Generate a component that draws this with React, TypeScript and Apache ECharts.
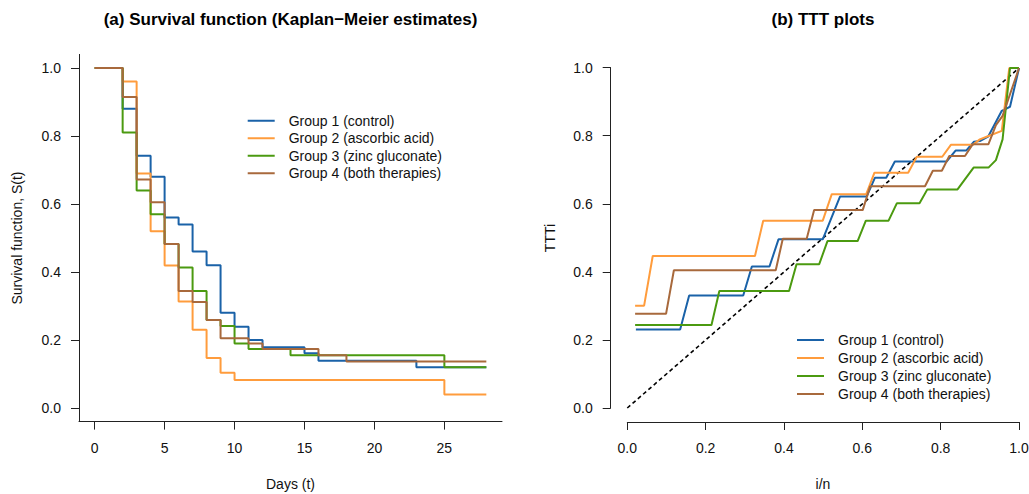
import React, { useEffect, useRef } from "react";
import * as echarts from "echarts";

// ---------- data ----------
const groupNames = [
  "Group 1 (control)",
  "Group 2 (ascorbic acid)",
  "Group 3 (zinc gluconate)",
  "Group 4 (both therapies)",
];

// Kaplan–Meier estimates (day, S(t)) — step changes
const km1Days = [0, 2, 3, 4, 5, 6, 7, 8, 9, 10, 11, 12, 15, 16, 23, 28];
const km1Surv = [1, 0.88, 0.742, 0.68, 0.56, 0.54, 0.46, 0.42, 0.28, 0.239, 0.2, 0.179, 0.161, 0.139, 0.12, 0.12];

const km2Days = [0, 2, 3, 4, 5, 6, 7, 8, 9, 10, 25, 28];
const km2Surv = [1, 0.96, 0.69, 0.52, 0.419, 0.313, 0.23, 0.147, 0.104, 0.082, 0.04, 0.04];

const km3Days = [0, 2, 3, 4, 5, 6, 7, 8, 9, 10, 11, 14, 25, 28];
const km3Surv = [1, 0.81, 0.64, 0.57, 0.482, 0.413, 0.344, 0.259, 0.241, 0.19, 0.1735, 0.155, 0.12, 0.12];

const km4Days = [0, 2, 3, 4, 5, 6, 7, 8, 9, 11, 12, 16, 18, 28];
const km4Surv = [1, 0.915, 0.672, 0.605, 0.482, 0.344, 0.312, 0.259, 0.205, 0.19, 0.1735, 0.155, 0.137, 0.137];

// TTT plots (i/n, TTTi)
const ttt1U = [0.022, 0.135, 0.158, 0.296, 0.318, 0.363, 0.386, 0.499, 0.543, 0.611, 0.632, 0.661, 0.683, 0.815, 0.838, 0.865, 0.885, 0.9, 0.921, 0.956, 0.977, 1];
const ttt1V = [0.231, 0.231, 0.331, 0.331, 0.416, 0.416, 0.496, 0.496, 0.622, 0.622, 0.677, 0.677, 0.725, 0.725, 0.757, 0.757, 0.783, 0.785, 0.798, 0.874, 0.886, 1];

const ttt2U = [0.02, 0.043, 0.065, 0.326, 0.347, 0.499, 0.522, 0.61, 0.631, 0.717, 0.739, 0.804, 0.826, 0.882, 0.9, 0.922, 0.956, 0.975, 1];
const ttt2V = [0.301, 0.301, 0.447, 0.447, 0.551, 0.551, 0.629, 0.629, 0.692, 0.692, 0.739, 0.739, 0.774, 0.774, 0.79, 0.8, 0.815, 1.0, 1];

const ttt3U = [0.02, 0.215, 0.235, 0.413, 0.432, 0.49, 0.511, 0.588, 0.609, 0.667, 0.688, 0.746, 0.766, 0.843, 0.884, 0.922, 0.941, 0.958, 0.977, 1];
const ttt3V = [0.244, 0.244, 0.344, 0.344, 0.423, 0.423, 0.491, 0.491, 0.551, 0.551, 0.602, 0.602, 0.643, 0.643, 0.707, 0.707, 0.729, 0.79, 1.0, 1];

const ttt4U = [0.02, 0.099, 0.119, 0.379, 0.397, 0.458, 0.477, 0.601, 0.62, 0.76, 0.78, 0.803, 0.822, 0.862, 0.882, 0.922, 0.941, 0.958, 1];
const ttt4V = [0.277, 0.277, 0.405, 0.405, 0.498, 0.498, 0.582, 0.582, 0.652, 0.652, 0.698, 0.698, 0.741, 0.741, 0.776, 0.776, 0.832, 0.859, 1];

const diagU = [0, 1];
const diagV = [0, 1];

const dayTicks = [0, 5, 10, 15, 20, 25];
const probTicks = [0, 0.2, 0.4, 0.6, 0.8, 1];

// ---------- styles ----------
const colors = ["#1a62a8", "#ff9c3c", "#4b9a10", "#a8693c"];
const FONT = "Liberation Sans, Arial, Helvetica, sans-serif";
const AX = "#222";

const zip = (a: number[], b: number[]) => a.map((v, i) => [v, b[i]]);

const kmDays = [km1Days, km2Days, km3Days, km4Days];
const kmSurv = [km1Surv, km2Surv, km3Surv, km4Surv];
const tttU = [ttt1U, ttt2U, ttt3U, ttt4U];
const tttV = [ttt1V, ttt2V, ttt3V, ttt4V];

const labelStyle = { color: "#111", fontSize: 14, fontFamily: FONT };

function buildOption() {
  const series: any[] = [];
  groupNames.forEach((name, i) => {
    series.push({
      name,
      type: "line",
      xAxisIndex: 0,
      yAxisIndex: 0,
      step: "end",
      showSymbol: false,
      symbol: "none",
      data: zip(kmDays[i], kmSurv[i]),
      lineStyle: { color: colors[i], width: 2 },
      itemStyle: { color: colors[i] },
    });
  });
  series.push({
    name: "diag",
    type: "line",
    xAxisIndex: 1,
    yAxisIndex: 1,
    showSymbol: false,
    symbol: "none",
    data: zip(diagU, diagV),
    lineStyle: { color: "#000", width: 1.6, type: [4, 3] },
    itemStyle: { color: "#000" },
  });
  groupNames.forEach((name, i) => {
    series.push({
      name,
      type: "line",
      xAxisIndex: 1,
      yAxisIndex: 1,
      showSymbol: false,
      symbol: "none",
      data: zip(tttU[i], tttV[i]),
      lineStyle: { color: colors[i], width: 2 },
      itemStyle: { color: colors[i] },
    });
  });

  const hidden = (min: number, max: number, gridIndex: number) => ({
    type: "value",
    gridIndex,
    min,
    max,
    show: false,
    splitLine: { show: false },
  });

  const legendCommon = {
    orient: "vertical",
    icon: "rect",
    itemWidth: 27,
    itemHeight: 2,
    itemGap: 0,
    padding: 0,
    selectedMode: false,
    data: groupNames,
    textStyle: { color: "#111", fontSize: 14, fontFamily: FONT, lineHeight: 17.5, padding: [0, 0, 0, 9] },
  };

  return {
    animation: false,
    backgroundColor: "#fff",
    textStyle: { fontFamily: FONT },
    grid: [
      { left: 79, top: 54.4, width: 423, height: 367.2, containLabel: false, outerBoundsMode: "none" },
      { left: 611.6, top: 54.4, width: 423.1, height: 367.2, containLabel: false, outerBoundsMode: "none" },
      { left: 627.3, top: 54.4, width: 391.7, height: 367.6, containLabel: false, outerBoundsMode: "none" },
      { left: 610.7, top: 67.6, width: 391.7, height: 340.4, containLabel: false, outerBoundsMode: "none" },
    ],
    xAxis: [
      {
        type: "value",
        gridIndex: 0,
        min: -1.12,
        max: 29.12,
        splitLine: { show: false },
        axisLine: { show: true, onZero: false, lineStyle: { color: AX, width: 1 } },
        axisTick: { show: true, length: 8, customValues: dayTicks, lineStyle: { color: AX } },
        axisLabel: { ...labelStyle, margin: 19, customValues: dayTicks, formatter: (v: number) => String(v) },
      },
      hidden(-0.04, 1.04, 1),
      {
        type: "value",
        gridIndex: 2,
        min: 0,
        max: 1,
        interval: 0.2,
        splitLine: { show: false },
        axisLine: { show: true, onZero: false, lineStyle: { color: AX, width: 1 } },
        axisTick: { show: true, length: 8, lineStyle: { color: AX } },
        axisLabel: { ...labelStyle, margin: 19, showMinLabel: true, showMaxLabel: true, formatter: (v: number) => v.toFixed(1) },
      },
      hidden(0, 1, 3),
    ],
    yAxis: [
      {
        type: "value",
        gridIndex: 0,
        min: -0.04,
        max: 1.04,
        splitLine: { show: false },
        axisLine: { show: true, onZero: false, lineStyle: { color: AX, width: 1 } },
        axisTick: { show: true, length: 8, customValues: probTicks, lineStyle: { color: AX } },
        axisLabel: { ...labelStyle, margin: 18, customValues: probTicks, formatter: (v: number) => v.toFixed(1) },
      },
      hidden(-0.04, 1.04, 1),
      hidden(0, 1, 2),
      {
        type: "value",
        gridIndex: 3,
        min: 0,
        max: 1,
        interval: 0.2,
        splitLine: { show: false },
        axisLine: { show: true, onZero: false, lineStyle: { color: AX, width: 1 } },
        axisTick: { show: true, length: 8, lineStyle: { color: AX } },
        axisLabel: { ...labelStyle, margin: 18, showMinLabel: true, showMaxLabel: true, formatter: (v: number) => v.toFixed(1) },
      },
    ],
    legend: [
      { ...legendCommon, left: 247.7, top: 112 },
      { ...legendCommon, left: 797, top: 331, textStyle: { ...legendCommon.textStyle, lineHeight: 18 } },
    ],
    graphic: [
      {
        type: "text",
        x: 290.5,
        y: 19,
        style: { text: "(a) Survival function (Kaplan\u2212Meier estimates)", fontSize: 17, fontWeight: "bold", fontFamily: FONT, fill: "#000", textAlign: "center", textVerticalAlign: "middle" },
      },
      {
        type: "text",
        x: 823,
        y: 19,
        style: { text: "(b) TTT plots", fontSize: 17, fontWeight: "bold", fontFamily: FONT, fill: "#000", textAlign: "center", textVerticalAlign: "middle" },
      },
      {
        type: "text",
        x: 290.5,
        y: 484,
        style: { text: "Days (t)", fontSize: 14, fontFamily: FONT, fill: "#111", textAlign: "center", textVerticalAlign: "middle" },
      },
      {
        type: "text",
        x: 823,
        y: 484,
        style: { text: "i/n", fontSize: 14, fontFamily: FONT, fill: "#111", textAlign: "center", textVerticalAlign: "middle" },
      },
      {
        type: "text",
        x: 17,
        y: 238,
        rotation: Math.PI / 2,
        style: { text: "Survival function, S(t)", fontSize: 14, fontFamily: FONT, fill: "#111", textAlign: "center", textVerticalAlign: "middle" },
      },
      {
        type: "text",
        x: 550,
        y: 238,
        rotation: Math.PI / 2,
        style: { text: "TTTi", fontSize: 14, fontFamily: FONT, fill: "#111", textAlign: "center", textVerticalAlign: "middle" },
      },
    ],
    series,
  };
}

export default function App() {
  const ref = useRef<HTMLDivElement>(null);
  useEffect(() => {
    if (!ref.current) return;
    const chart = echarts.init(ref.current, null, { renderer: "svg" });
    chart.setOption(buildOption() as any);
    return () => chart.dispose();
  }, []);
  return (
    <div
      ref={ref}
      style={{ position: "fixed", left: 0, top: 0, width: 1029, height: 494, background: "#fff" }}
    />
  );
}
